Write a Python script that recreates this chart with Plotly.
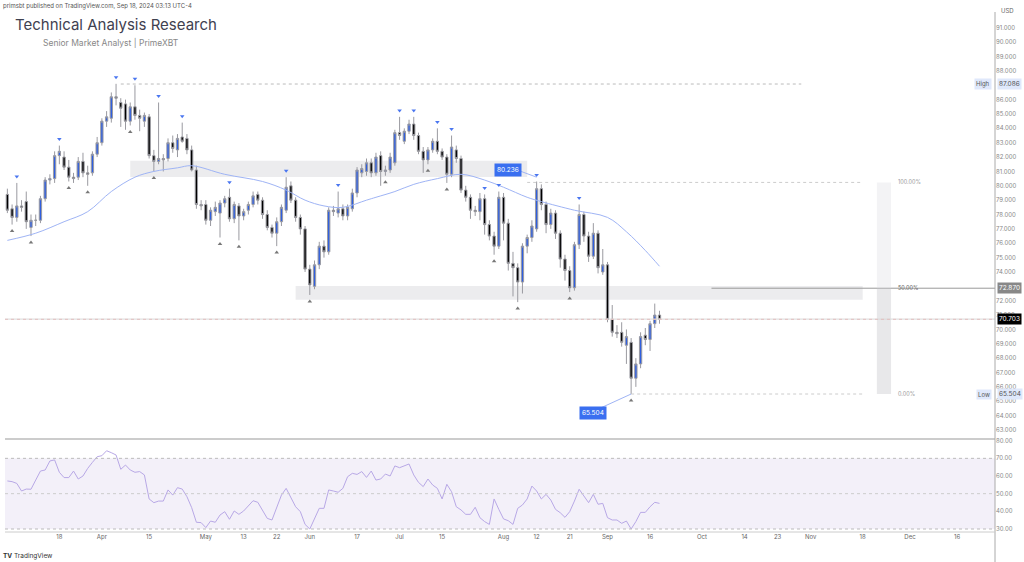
import pandas as pd
import plotly.graph_objs as go

# Daily candles (Mar -> Sep 18, 2024)
opens = [79.4, 78.4, 77.8, 78.6, 78.9, 77.1, 77.6, 77.6, 79.1, 80.4, 80.5, 82.1, 82.0, 81.3, 80.6, 80.6, 81.7, 80.9, 80.9, 82.2,
         83.0, 84.5, 84.7, 86.2, 85.8, 85.7, 84.5, 85.5, 84.9, 84.5, 84.8, 82.1, 81.7, 81.9, 81.9, 83.0, 82.5, 83.4, 83.3, 82.5,
         81.1, 78.7, 78.7, 77.6, 78.2, 78.1, 78.8, 79.2, 77.7, 78.6, 77.9, 78.3, 78.7, 79.4, 79.0, 78.0, 77.1, 76.7, 77.5, 78.3,
         80.0, 79.0, 77.8, 77.0, 74.2, 73.0, 74.5, 75.8, 75.4, 78.3, 78.1, 78.4, 77.9, 78.4, 79.5, 80.9, 81.0, 81.6, 80.9, 82.1,
         81.0, 81.1, 81.6, 83.7, 83.1, 83.8, 84.3, 83.5, 82.4, 81.8, 82.5, 83.1, 82.4, 82.0, 80.8, 82.5, 81.9, 79.7, 79.2, 78.3,
         78.2, 79.1, 77.3, 76.5, 75.8, 79.2, 77.4, 74.6, 74.3, 73.3, 75.8, 76.4, 77.0, 79.8, 78.7, 77.3, 78.1, 76.7, 74.9, 74.1,
         72.9, 75.9, 78.0, 76.5, 75.1, 76.7, 74.0, 74.5, 70.7, 69.8, 69.8, 68.9, 69.1, 66.6, 67.6, 69.6, 69.3, 70.4, 71.0]
highs = [79.8, 78.7, 80.2, 79.0, 79.6, 78.0, 78.0, 79.3, 80.6, 80.8, 82.4, 82.8, 82.4, 81.8, 80.9, 82.0, 82.3, 81.4, 82.4, 83.4,
         84.7, 85.2, 86.5, 87.1, 86.1, 86.0, 85.8, 87.0, 85.3, 85.1, 85.0, 82.5, 85.8, 82.2, 83.3, 83.5, 83.6, 84.4, 83.6, 82.8,
         81.4, 79.0, 79.0, 78.5, 78.9, 79.0, 79.3, 79.8, 78.9, 78.8, 78.4, 78.9, 79.6, 79.6, 79.2, 78.3, 77.3, 77.8, 78.7, 80.6,
         80.3, 79.2, 78.0, 77.2, 74.5, 74.8, 76.1, 76.2, 78.5, 78.6, 79.6, 78.7, 78.7, 79.8, 81.3, 81.5, 81.9, 81.9, 82.3, 82.4,
         81.4, 82.3, 83.9, 84.8, 84.0, 84.6, 84.8, 83.7, 82.7, 82.7, 83.3, 84.0, 82.6, 82.2, 83.5, 82.8, 82.1, 80.0, 79.4, 78.6,
         79.5, 79.4, 77.6, 76.8, 79.6, 79.5, 77.7, 75.4, 74.6, 76.0, 76.6, 77.6, 80.3, 80.1, 78.9, 78.4, 78.3, 76.9, 75.2, 74.4,
         76.1, 78.7, 78.2, 76.8, 77.4, 76.9, 75.6, 74.7, 71.7, 70.3, 70.5, 70.0, 69.4, 68.0, 69.8, 70.1, 70.6, 71.8, 71.3]
lows = [78.1, 77.3, 77.5, 78.2, 77.0, 76.5, 77.2, 77.4, 78.9, 80.1, 80.2, 81.5, 81.1, 80.3, 80.2, 80.4, 80.6, 80.0, 80.7, 82.0,
        82.8, 84.1, 84.4, 85.6, 84.1, 83.9, 84.2, 84.6, 83.8, 84.1, 81.9, 81.0, 81.5, 81.0, 81.7, 82.3, 82.0, 83.0, 82.2, 81.0,
        78.4, 78.3, 77.3, 77.2, 77.9, 76.4, 78.5, 77.5, 77.4, 76.2, 77.6, 78.0, 78.5, 78.7, 77.7, 76.9, 76.4, 75.8, 77.2, 78.1,
        78.8, 77.5, 76.6, 74.0, 72.4, 72.8, 74.2, 75.0, 75.2, 77.9, 77.8, 77.6, 77.6, 78.2, 79.2, 80.6, 80.7, 80.6, 80.7, 80.0,
        80.7, 80.9, 81.4, 83.2, 82.9, 83.6, 83.2, 82.2, 80.9, 81.5, 82.3, 82.2, 81.8, 80.2, 80.6, 81.6, 79.5, 78.9, 77.7, 77.9,
        77.6, 76.6, 76.2, 75.2, 75.6, 76.2, 74.1, 72.3, 71.9, 72.5, 75.3, 76.1, 76.8, 78.3, 76.7, 77.0, 76.3, 74.3, 73.4, 72.6,
        72.7, 75.6, 76.1, 74.7, 74.9, 73.9, 73.8, 70.5, 69.5, 69.4, 68.8, 67.6, 65.5, 66.0, 67.3, 68.9, 68.5, 70.1, 70.4]
closes = [78.3, 77.8, 78.6, 78.5, 77.5, 77.6, 77.6, 79.1, 80.4, 80.5, 82.1, 82.4, 81.3, 80.6, 80.5, 81.7, 80.9, 80.8, 82.2, 83.0,
          84.5, 84.8, 86.2, 86.1, 85.4, 84.5, 85.5, 84.9, 84.7, 84.9, 82.1, 81.7, 81.9, 81.8, 83.0, 82.6, 83.3, 83.1, 82.5, 81.1,
          78.7, 78.6, 77.6, 78.3, 78.5, 78.8, 79.1, 77.7, 78.7, 77.9, 78.2, 78.7, 79.3, 79.0, 78.0, 77.1, 76.7, 77.5, 78.5, 79.9,
          79.0, 77.8, 77.0, 74.2, 73.1, 74.5, 75.8, 75.4, 78.3, 78.2, 78.4, 77.9, 78.5, 79.5, 81.1, 81.2, 81.6, 80.9, 82.0, 81.0,
          81.1, 82.0, 83.7, 83.5, 83.8, 84.3, 83.5, 82.4, 81.8, 82.5, 83.1, 82.4, 82.0, 80.8, 82.7, 81.9, 79.7, 79.2, 78.3, 78.2,
          79.1, 77.3, 76.5, 75.8, 79.2, 77.4, 74.6, 74.3, 73.3, 75.8, 76.4, 77.2, 79.8, 78.7, 77.3, 78.1, 76.7, 74.9, 74.1, 72.9,
          75.9, 78.0, 76.5, 75.1, 76.7, 74.3, 74.5, 70.7, 69.8, 69.7, 69.1, 69.5, 66.6, 67.6, 69.5, 69.3, 70.4, 71.0, 70.703]

# moving average read at sample bars
ma_idx = [0, 6, 12, 17, 22, 27, 31, 36, 39, 46, 54, 59, 63, 67, 71, 76, 78, 82, 86, 91, 96, 101, 105, 110, 113, 120, 127, 131, 135, 138]
ma_val = [76.2, 76.7, 77.5, 78.2, 79.6, 80.6, 81.0, 81.25, 81.4, 80.8, 80.3, 79.7, 79.0, 78.6, 78.5, 79.0, 79.2, 79.6, 80.1, 80.5,
          80.8, 80.4, 79.9, 79.2, 78.9, 78.3, 77.8, 76.8, 75.5, 74.4]

rsi = [57.2, 56.8, 55.8, 51.5, 52.6, 52.5, 57.7, 62.8, 63.4, 68.5, 69.1, 62.1, 59.1, 59.1, 62.8, 58.3, 60, 64.3, 67.7, 70.9,
       71.5, 74.3, 73.2, 71.9, 63.8, 66.2, 63.4, 62.1, 62.5, 60.6, 47, 44.9, 45.8, 45.8, 52.1, 49.2, 53.4, 52.6, 48.3, 42.1,
       33.8, 33.6, 30.8, 34.5, 33.8, 37.9, 39.8, 35.5, 40.2, 38.3, 40.2, 43.2, 46, 45.1, 40.2, 36, 35.1, 42.6, 49.2, 53,
       47.4, 42.6, 39.8, 32.6, 30, 36, 41.7, 41.7, 52.1, 51.5, 50.8, 53, 59.6, 61.5, 60.9, 62.5, 59.2, 62.8, 57.7, 58.3,
       61.1, 60, 65.7, 64.7, 65.8, 66.8, 60.6, 56.4, 54, 58.3, 54.9, 53, 47, 55.3, 51.1, 42.6, 40.8, 38.3, 38.3, 42.3,
       36.4, 34.2, 32.6, 47, 41.1, 35.7, 34.7, 32.6, 41.7, 43.6, 47, 54.3, 51.5, 47, 49.6, 46.4, 41.1, 39.2, 36.6, 39.8,
       45.8, 52.5, 48.7, 44.9, 49.6, 44, 44.5, 36.4, 35.1, 35.1, 33.2, 34.5, 30, 34.2, 39.4, 39.4, 42.6, 45.1, 44.5]

swing_high_idx = [2, 11, 23, 27, 32, 37, 47, 59, 70, 83, 86, 91, 94, 101, 104, 112, 121]
swing_low_idx = [1, 5, 13, 17, 26, 31, 45, 49, 57, 64, 80, 89, 93, 103, 108, 119, 132]

tick_dates = ["2024-03-18", "2024-04-01", "2024-04-15", "2024-05-01", "2024-05-13", "2024-05-22", "2024-06-03",
              "2024-06-17", "2024-07-01", "2024-07-15", "2024-08-01", "2024-08-12", "2024-08-21", "2024-09-03",
              "2024-09-16", "2024-10-01", "2024-10-14", "2024-10-23", "2024-11-01", "2024-11-18", "2024-12-02", "2024-12-16"]
tick_text = ["18", "Apr", "15", "May", "13", "22", "Jun", "17", "Jul", "15", "Aug", "12", "21", "Sep", "16",
             "Oct", "14", "23", "Nov", "18", "Dec", "16"]
price_ticks = [63, 64, 65, 66, 67, 68, 69, 70, 71, 72, 74, 75, 76, 77, 78, 79, 80, 81, 82, 83, 84, 85, 86, 88, 89, 90, 91]

high_price, low_price, fib_top, fib_mid, last_price = 87.086, 65.504, 80.236, 72.870, 70.703

holidays = ["2024-03-29", "2024-05-27", "2024-06-19", "2024-07-04", "2024-09-02"]
dates = pd.bdate_range(end="2024-09-18", periods=len(closes), freq="C", holidays=holidays)

BLUE = "#2f5fe0"
GRAY = "#9a9aa0"

data = [
    go.Candlestick(x=dates, open=opens, high=highs, low=lows, close=closes,
                   increasing=dict(line=dict(color=GRAY, width=1), fillcolor=BLUE),
                   decreasing=dict(line=dict(color=GRAY, width=1), fillcolor="#000000"),
                   whiskerwidth=0, showlegend=False, hoverinfo="skip"),
    go.Scatter(x=[dates[i] for i in ma_idx], y=ma_val, mode="lines", line=dict(color="#9fb4f5", width=1),
               line_shape="spline", showlegend=False, hoverinfo="skip"),
    go.Scatter(x=[dates[i] for i in swing_high_idx], y=[highs[i] + 0.45 for i in swing_high_idx], mode="markers",
               marker=dict(symbol="triangle-down", size=4, color="#4a76f0"), showlegend=False, hoverinfo="skip"),
    go.Scatter(x=[dates[i] for i in swing_low_idx], y=[lows[i] - 0.45 for i in swing_low_idx], mode="markers",
               marker=dict(symbol="triangle-up", size=4, color="#777"), showlegend=False, hoverinfo="skip"),
    go.Scatter(x=dates[:len(rsi)], y=rsi[:len(closes)], yaxis="y2", mode="lines",
               line=dict(color="#b8a8e6", width=1), showlegend=False, hoverinfo="skip"),
]

x_end = "2024-12-26"
shapes = [
    # supply / demand zones
    dict(type="rect", x0=dates[26], x1=dates[110], y0=80.62, y1=81.74, fillcolor="rgba(200,200,205,0.35)", line_width=0, layer="below"),
    dict(type="rect", x0=dates[61], x1="2024-11-18", y0=72.06, y1=73.03, fillcolor="rgba(200,200,205,0.35)", line_width=0, layer="below"),
    # high line
    dict(type="line", x0=dates[24], x1="2024-10-30", y0=high_price, y1=high_price, line=dict(color="#bbb", width=1, dash="dot")),
    # fib lines
    dict(type="line", x0=dates[110], x1="2024-11-18", y0=fib_top, y1=fib_top, line=dict(color="#ccc", width=1, dash="dot")),
    dict(type="line", x0=dates[132], x1="2024-11-18", y0=low_price, y1=low_price, line=dict(color="#ccc", width=1, dash="dot")),
    dict(type="line", x0="2024-10-03", x1=x_end, y0=fib_mid, y1=fib_mid, line=dict(color="#999", width=1)),
    dict(type="rect", x0="2024-11-21", x1="2024-11-26", y0=fib_mid, y1=fib_top, fillcolor="rgba(220,220,225,0.35)", line_width=0),
    dict(type="rect", x0="2024-11-21", x1="2024-11-26", y0=low_price, y1=fib_mid, fillcolor="rgba(190,190,195,0.35)", line_width=0),
    # last price
    dict(type="line", xref="paper", x0=0, x1=1, y0=last_price, y1=last_price, line=dict(color="#f0a0a0", width=1, dash="dot")),
    dict(type="line", xref="paper", x0=0, x1=1, y0=70.72, y1=70.72, line=dict(color="#d8d8d8", width=1)),
    # RSI band
    dict(type="rect", xref="paper", yref="y2", x0=0, x1=1, y0=30, y1=70, fillcolor="rgba(126,87,194,0.09)", line_width=0, layer="below"),
    dict(type="line", xref="paper", yref="y2", x0=0, x1=1, y0=70, y1=70, line=dict(color="#bbb", width=1, dash="dot")),
    dict(type="line", xref="paper", yref="y2", x0=0, x1=1, y0=50, y1=50, line=dict(color="#ccc", width=1, dash="dot")),
    dict(type="line", xref="paper", yref="y2", x0=0, x1=1, y0=30, y1=30, line=dict(color="#bbb", width=1, dash="dot")),
    # pane separator and frame
    dict(type="line", xref="paper", yref="paper", x0=0, x1=1, y0=0.179, y1=0.179, line=dict(color="#ccc", width=2)),
    dict(type="line", xref="paper", yref="paper", x0=1, x1=1, y0=-0.06, y1=1.0, line=dict(color="#aaa", width=1)),
    dict(type="line", xref="paper", yref="paper", x0=0, x1=1, y0=0, y1=0, line=dict(color="#ccc", width=1)),
    # connectors to the price labels
    dict(type="line", x0=dates[132], x1=dates[124], y0=low_price, y1=64.3, line=dict(color="#9fb4f5", width=1)),
    dict(type="line", x0=dates[108], x1=dates[112], y0=fib_top + 0.85, y1=80.6, line=dict(color="#9fb4f5", width=1)),
]


def tag(y, text, bg, fg, yref="y"):
    return dict(xref="paper", yref=yref, x=1.002, y=y, xanchor="left", text=text, showarrow=False,
                font=dict(size=6.5, color=fg), bgcolor=bg, borderpad=1)


annotations = [
    dict(xref="paper", yref="paper", x=-0.004, y=1.0, xanchor="left", yanchor="bottom", showarrow=False,
         text="primsbt published on TradingView.com, Sep 18, 2024 03:13 UTC-4", font=dict(size=6, color="#555")),
    dict(xref="paper", yref="paper", x=0.008, y=0.998, xanchor="left", yanchor="top", showarrow=False,
         text="Technical Analysis Research", font=dict(size=15, color="#3f4150")),
    dict(xref="paper", yref="paper", x=0.036, y=0.955, xanchor="left", yanchor="top", showarrow=False,
         text="Senior Market Analyst | PrimeXBT", font=dict(size=8.5, color="#888")),
    dict(xref="paper", yref="paper", x=1.004, y=0.993, xanchor="left", yanchor="bottom", showarrow=False,
         text="USD", font=dict(size=6, color="#666")),
    dict(xref="paper", yref="paper", x=-0.004, y=-0.035, xanchor="left", yanchor="top", showarrow=False,
         text="<b>TV</b> TradingView", font=dict(size=6.5, color="#333")),
    tag(high_price, "87.086", "#dfe8fb", "#555"),
    dict(xref="paper", x=0.997, y=high_price, xanchor="right", text="High", showarrow=False,
         font=dict(size=6, color="#555"), bgcolor="#dfe8fb"),
    tag(low_price, "65.504", "#dfe8fb", "#555"),
    dict(xref="paper", x=0.997, y=low_price, xanchor="right", text="Low", showarrow=False,
         font=dict(size=6, color="#555"), bgcolor="#dfe8fb"),
    tag(fib_mid, "72.870", "#888", "#fff"),
    tag(last_price, "70.703", "#000", "#fff"),
    dict(x=dates[106], y=fib_top + 0.85, text="80.236", showarrow=False, font=dict(size=6.5, color="#fff"),
         bgcolor="#3a6ff0", borderpad=2),
    dict(x=dates[124], y=64.2, text="65.504", showarrow=False, font=dict(size=6.5, color="#fff"),
         bgcolor="#3a6ff0", borderpad=2),
    dict(x="2024-11-27", y=fib_top, xanchor="left", text="100.00%", showarrow=False, font=dict(size=5.5, color="#999")),
    dict(x="2024-11-27", y=fib_mid, xanchor="left", text="50.00%", showarrow=False, font=dict(size=5.5, color="#666")),
    dict(x="2024-11-27", y=low_price, xanchor="left", text="0.00%", showarrow=False, font=dict(size=5.5, color="#999")),
]

layout = go.Layout(
    width=1024, height=562, paper_bgcolor="white", plot_bgcolor="white",
    margin=dict(l=5, r=29, t=12, b=30),
    font=dict(family="Inter, Roboto, sans-serif"),
    xaxis=dict(range=["2024-02-29 12:00", x_end], anchor="y2", rangeslider=dict(visible=False),
               rangebreaks=[dict(bounds=["sat", "mon"]), dict(values=holidays)],
               tickvals=tick_dates, ticktext=tick_text, tickfont=dict(size=6, color="#666"),
               showgrid=False, zeroline=False, ticks="", automargin=False),
    yaxis=dict(domain=[0.181, 1], range=[62.45, 92.1], side="right", tickvals=price_ticks,
               tickformat=".3f", tickfont=dict(size=6, color="#888"), showgrid=False, zeroline=False, automargin=False),
    yaxis2=dict(domain=[0, 0.177], range=[28.3, 80.4], side="right", tickvals=[30, 40, 50, 60, 70, 80],
                tickformat=".2f", tickfont=dict(size=6, color="#888"), showgrid=False, zeroline=False, automargin=False),
    shapes=shapes, annotations=annotations, hovermode=False,
)

fig = go.Figure(data=data, layout=layout)
fig.write_html("out.html", config=dict(displayModeBar=False))

# drop the browser's default page margin so the figure sits at the window corner
with open("out.html", encoding="utf-8") as f:
    page = f.read()
page = page.replace("<body>", '<body style="margin:0">', 1)
with open("out.html", "w", encoding="utf-8") as f:
    f.write(page)
